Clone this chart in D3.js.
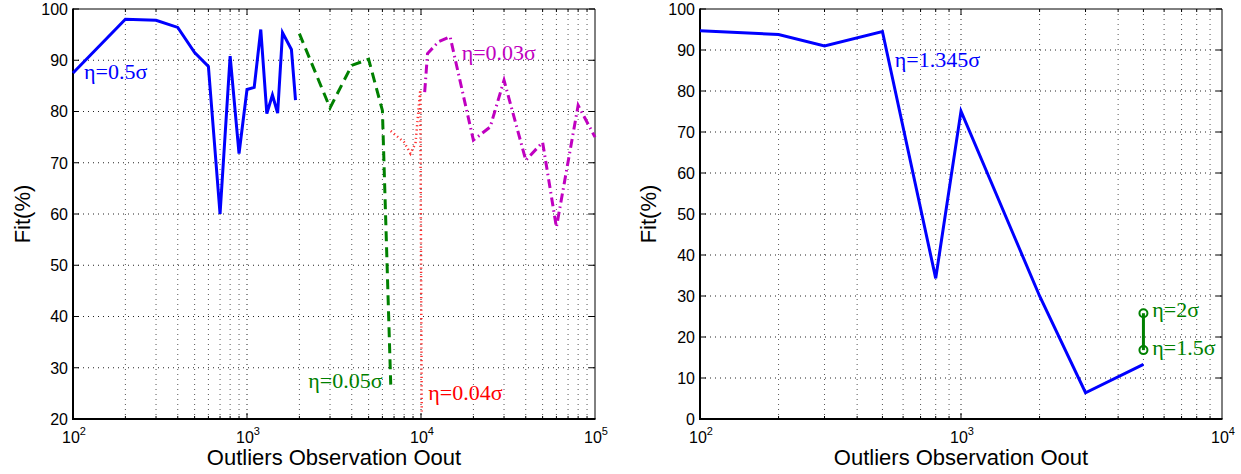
<!DOCTYPE html>
<html>
<head>
<meta charset="utf-8">
<script src="https://cdn.jsdelivr.net/npm/d3@7"></script>
<style>
  html, body { margin: 0; padding: 0; background: #fff; }
  svg { display: block; }
</style>
</head>
<body>
<svg id="chart" width="1241" height="474"></svg>
<script>
// ---------------- DATA ----------------
// Left panel
const leftBlueX  = [100, 200, 300, 400, 500, 600, 700, 800, 900, 1000, 1100, 1200, 1300, 1400, 1500, 1600, 1800, 1900];
const leftBlueY  = [87.5, 98.0, 97.8, 96.4, 91.5, 88.8, 60.0, 90.8, 71.8, 84.3, 84.7, 96.0, 79.6, 83.2, 79.7, 95.4, 92.1, 82.2];
const leftGreenX = [2000, 3000, 4000, 5000, 6000, 6700];
const leftGreenY = [95.2, 80.7, 89.0, 90.2, 80.2, 26.7];
const leftRedX   = [6700, 8000, 8700, 9300, 9900, 10100];
const leftRedY   = [76.2, 74.0, 71.8, 73.8, 84.2, 21.0];
const leftMagX   = [10500, 10900, 12600, 14700, 20000, 25000, 30000, 40000, 50000, 60000, 80000, 100000];
const leftMagY   = [83.8, 91.3, 93.6, 94.6, 74.4, 77.0, 86.1, 70.5, 74.0, 57.4, 81.2, 75.0];

// Right panel
const rightBlueX  = [100, 200, 300, 500, 800, 1000, 2000, 3000, 5000];
const rightBlueY  = [94.7, 93.8, 91.0, 94.5, 34.3, 75.1, 30.0, 6.4, 13.3];
const rightGreenX = [5000, 5000];
const rightGreenY = [16.8, 25.8];

// Tick labels
const leftYTicks   = [20, 30, 40, 50, 60, 70, 80, 90, 100];
const rightYTicks  = [0, 10, 20, 30, 40, 50, 60, 70, 80, 90, 100];
const leftXDecades = [2, 3, 4, 5];
const rightXDecades = [2, 3, 4];

// Annotation labels (text, anchor in data units)
const leftLabels  = [
  { text: "η=0.5σ",  x: 115.7, y: 86.3, color: "#0000ff" },
  { text: "η=0.03σ", x: 17140, y: 90.0, color: "#c000c0" },
  { text: "η=0.05σ", x: 2250,  y: 26.1, color: "#008000" },
  { text: "η=0.04σ", x: 11010, y: 23.8, color: "#ff0000" }
];
const rightLabels = [
  { text: "η=1.345σ", x: 558,  y: 85.9, color: "#0000ff" },
  { text: "η=2σ",     x: 5408, y: 24.9, color: "#008000" },
  { text: "η=1.5σ",   x: 5408, y: 15.6, color: "#008000" }
];

const xTitle = "Outliers Observation Oout";
const yTitle = "Fit(%)";

// ---------------- DRAW ----------------
const svg = d3.select("#chart");
const sansFont = "'Liberation Sans', Arial, Helvetica, sans-serif";
const serifFont = "'Liberation Serif', 'Times New Roman', serif";

function zip(xs, ys) { return xs.map((x, i) => [x, ys[i]]); }

function panel(opts) {
  const { x, y, xDecades, yTicks, titleX } = opts;
  const g = svg.append("g");
  const [x0, x1] = x.range();
  const [yb, yt] = y.range();

  // grid: minor/major vertical lines
  const dmin = Math.log10(x.domain()[0]), dmax = Math.log10(x.domain()[1]);
  const vlines = [];
  for (let d = dmin; d < dmax; d++) {
    for (let m = 1; m <= 9; m++) {
      const v = m * Math.pow(10, d);
      if (v > x.domain()[0] && v < x.domain()[1]) vlines.push({ v, major: m === 1 });
    }
  }
  g.append("g").selectAll("line").data(vlines).join("line")
    .attr("x1", d => x(d.v)).attr("x2", d => x(d.v))
    .attr("y1", yt).attr("y2", yb)
    .attr("stroke", d => d.major ? "#222" : "#555")
    .attr("stroke-width", 1)
    .attr("stroke-dasharray", "1,4");
  g.append("g").selectAll("line").data(yTicks.filter(t => t > y.domain()[0] && t < y.domain()[1])).join("line")
    .attr("x1", x0).attr("x2", x1)
    .attr("y1", d => y(d)).attr("y2", d => y(d))
    .attr("stroke", "#222").attr("stroke-width", 1)
    .attr("stroke-dasharray", "1,4");

  // inner tick marks
  const tk = g.append("g").attr("stroke", "#000").attr("stroke-width", 1);
  vlines.forEach(d => {
    const L = d.major ? 6 : 3;
    tk.append("line").attr("x1", x(d.v)).attr("x2", x(d.v)).attr("y1", yb).attr("y2", yb - L);
    tk.append("line").attr("x1", x(d.v)).attr("x2", x(d.v)).attr("y1", yt).attr("y2", yt + L);
  });
  yTicks.forEach(t => {
    tk.append("line").attr("x1", x0).attr("x2", x0 + 6).attr("y1", y(t)).attr("y2", y(t));
    tk.append("line").attr("x1", x1).attr("x2", x1 - 6).attr("y1", y(t)).attr("y2", y(t));
  });

  // box
  g.append("line").attr("x1", x0).attr("x2", x1).attr("y1", yt).attr("y2", yt).attr("stroke", "#000").attr("stroke-width", 1);
  g.append("line").attr("x1", x1).attr("x2", x1).attr("y1", yt).attr("y2", yb).attr("stroke", "#000").attr("stroke-width", 1);
  g.append("line").attr("x1", x0).attr("x2", x0).attr("y1", yt - 0.5).attr("y2", yb + 1).attr("stroke", "#000").attr("stroke-width", 2);
  g.append("line").attr("x1", x0 - 1).attr("x2", x1 + 0.5).attr("y1", yb).attr("y2", yb).attr("stroke", "#000").attr("stroke-width", 2);

  // y tick labels
  g.append("g").selectAll("text").data(yTicks).join("text")
    .attr("x", x0 - 5).attr("y", d => y(d)).attr("dy", "0.36em")
    .attr("text-anchor", "end")
    .attr("font-family", sansFont).attr("font-size", 16).attr("fill", "#000")
    .text(d => d);

  // x tick labels (10^n)
  const xl = g.append("g").selectAll("text").data(xDecades).join("text")
    .attr("x", d => x(Math.pow(10, d)) + 1).attr("y", 443)
    .attr("text-anchor", "middle")
    .attr("font-family", sansFont).attr("font-size", 16).attr("fill", "#000");
  xl.append("tspan").text("10");
  xl.append("tspan").attr("dy", -8).attr("font-size", 11).text(d => d);

  // axis titles
  g.append("text").attr("x", (x0 + x1) / 2).attr("y", 465)
    .attr("text-anchor", "middle")
    .attr("font-family", sansFont).attr("font-size", 22).attr("fill", "#000")
    .text(xTitle);
  g.append("text")
    .attr("transform", `translate(${titleX},${(yt + yb) / 2}) rotate(-90)`)
    .attr("text-anchor", "middle")
    .attr("font-family", sansFont).attr("font-size", 22).attr("fill", "#000")
    .text(yTitle);

  return g;
}

// Left panel
const xL = d3.scaleLog().domain([100, 1e5]).range([73, 595]);
const yL = d3.scaleLinear().domain([20, 100]).range([419, 9]);
const gL = panel({ x: xL, y: yL, xDecades: leftXDecades, yTicks: leftYTicks, titleX: 30 });
const lineL = d3.line().x(d => xL(d[0])).y(d => yL(d[1]));

gL.append("path").datum(zip(leftBlueX, leftBlueY)).attr("d", lineL)
  .attr("fill", "none").attr("stroke", "#0000ff").attr("stroke-width", 3).attr("stroke-linejoin", "miter");
gL.append("path").datum(zip(leftGreenX, leftGreenY)).attr("d", lineL)
  .attr("fill", "none").attr("stroke", "#008000").attr("stroke-width", 3).attr("stroke-dasharray", "10,6");
gL.append("path").datum(zip(leftRedX, leftRedY)).attr("d", lineL)
  .attr("fill", "none").attr("stroke", "#ff3030").attr("stroke-width", 2.5).attr("stroke-dasharray", "1.2,3");
gL.append("path").datum(zip(leftMagX, leftMagY)).attr("d", lineL)
  .attr("fill", "none").attr("stroke", "#c000c0").attr("stroke-width", 3).attr("stroke-dasharray", "9,4,1.5,4");

gL.append("g").selectAll("text").data(leftLabels).join("text")
  .attr("x", d => xL(d.x)).attr("y", d => yL(d.y))
  .attr("font-family", serifFont).attr("font-size", 22)
  .attr("fill", d => d.color).text(d => d.text);

// Right panel
const xR = d3.scaleLog().domain([100, 1e4]).range([700, 1222]);
const yR = d3.scaleLinear().domain([0, 100]).range([419, 9]);
const gR = panel({ x: xR, y: yR, xDecades: rightXDecades, yTicks: rightYTicks, titleX: 656 });
const lineR = d3.line().x(d => xR(d[0])).y(d => yR(d[1]));

gR.append("path").datum(zip(rightBlueX, rightBlueY)).attr("d", lineR)
  .attr("fill", "none").attr("stroke", "#0000ff").attr("stroke-width", 3);
gR.append("path").datum(zip(rightGreenX, rightGreenY)).attr("d", lineR)
  .attr("fill", "none").attr("stroke", "#008000").attr("stroke-width", 3);
gR.append("g").selectAll("circle").data(zip(rightGreenX, rightGreenY)).join("circle")
  .attr("cx", d => xR(d[0])).attr("cy", d => yR(d[1])).attr("r", 4)
  .attr("fill", "none").attr("stroke", "#008000").attr("stroke-width", 2);

gR.append("g").selectAll("text").data(rightLabels).join("text")
  .attr("x", d => xR(d.x)).attr("y", d => yR(d.y))
  .attr("font-family", serifFont).attr("font-size", 22)
  .attr("fill", d => d.color).text(d => d.text);
</script>
</body>
</html>
